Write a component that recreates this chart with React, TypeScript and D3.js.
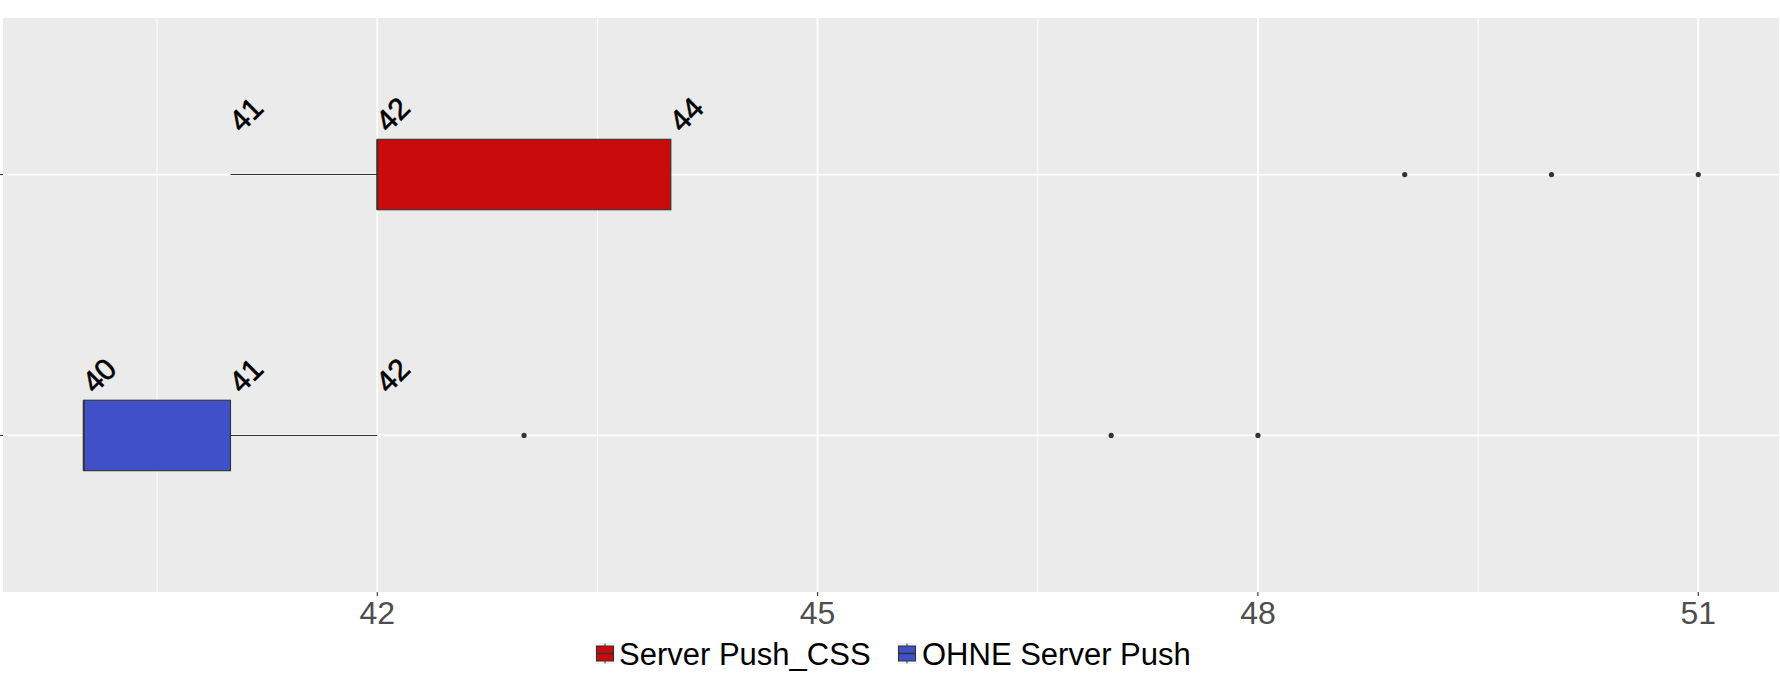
import React from 'react';
import * as d3 from 'd3';

// groups, top to bottom in the picture
const groups = ['Server Push_CSS', 'OHNE Server Push'];
const colors = ['#C90B0B', '#3F50C8'];

// boxplot statistics
const whiskerLow = [41, 40];
const q1 = [42, 40];
const median = [42, 40];
const q3 = [44, 41];
const whiskerHigh = [44, 42];
const outliers = [
  [49, 50, 51],
  [43, 47, 48],
];

// rotated value labels over each box
const labelValues = [
  [41, 42, 44],
  [40, 41, 42],
];

const xTicks = [42, 45, 48, 51];
const xMinor = [40.5, 43.5, 46.5, 49.5];

const W = 1780;
const H = 700;
const panel = { left: 3, right: 1779, top: 18, bottom: 592 };

const App = () => {
  const x = d3.scaleLinear().domain([39.45, 51.55]).range([panel.left, panel.right]);
  // discrete y axis: level 1 at bottom, 2 at top, 0.6 expansion
  const y = d3.scaleLinear().domain([0.4, 2.6]).range([panel.bottom, panel.top]);
  const yPos = (i: number) => y(groups.length - i);
  const half = y(0) - y(0.135);

  const font = '"Liberation Sans", Arial, sans-serif';

  const legendItems = [
    { key: 595, text: 619 },
    { key: 897, text: 922 },
  ];

  return (
    <div style={{ position: 'absolute', left: 0, top: 0 }}>
      <svg width={W} height={H} style={{ display: 'block' }} fontFamily={font}>
        <rect x={0} y={0} width={W} height={H} fill="#FFFFFF" />
        <rect
          x={panel.left}
          y={panel.top}
          width={panel.right - panel.left}
          height={panel.bottom - panel.top}
          fill="#EBEBEB"
        />
        {xMinor.map((v) => (
          <line key={'mn' + v} x1={x(v)} x2={x(v)} y1={panel.top} y2={panel.bottom} stroke="#FFFFFF" strokeWidth={0.9} />
        ))}
        {xTicks.map((v) => (
          <line key={'mj' + v} x1={x(v)} x2={x(v)} y1={panel.top} y2={panel.bottom} stroke="#FFFFFF" strokeWidth={1.8} />
        ))}
        {groups.map((g, i) => (
          <line key={'hg' + g} x1={panel.left} x2={panel.right} y1={yPos(i)} y2={yPos(i)} stroke="#FFFFFF" strokeWidth={1.8} />
        ))}

        {groups.map((g, i) => {
          const cy = yPos(i);
          return (
            <g key={g}>
              <line x1={x(whiskerLow[i])} x2={x(q1[i])} y1={cy} y2={cy} stroke="#333333" strokeWidth={1.1} />
              <line x1={x(q3[i])} x2={x(whiskerHigh[i])} y1={cy} y2={cy} stroke="#333333" strokeWidth={1.1} />
              <rect
                x={x(q1[i])}
                y={cy - half}
                width={x(q3[i]) - x(q1[i])}
                height={half * 2}
                fill={colors[i]}
                stroke="#333333"
                strokeWidth={1.1}
              />
              <line x1={x(median[i])} x2={x(median[i])} y1={cy - half} y2={cy + half} stroke="#333333" strokeWidth={2} />
              {outliers[i].map((v) => (
                <circle key={v} cx={x(v)} cy={cy} r={2.6} fill="#333333" />
              ))}
              {labelValues[i].map((v) => (
                <text
                  key={'l' + v}
                  transform={`translate(${x(v) + 11},${cy - 41}) rotate(-45)`}
                  fontSize={30}
                  fill="#000000"
                  stroke="#000000"
                  strokeWidth={0.6}
                  textAnchor="start"
                >
                  {v}
                </text>
              ))}
            </g>
          );
        })}

        {/* y axis ticks (labels are blank) */}
        {groups.map((g, i) => (
          <line key={'yt' + g} x1={0} x2={panel.left} y1={yPos(i)} y2={yPos(i)} stroke="#333333" strokeWidth={1.1} />
        ))}

        {/* x axis */}
        {xTicks.map((v) => (
          <g key={'xt' + v}>
            <line x1={x(v)} x2={x(v)} y1={panel.bottom} y2={panel.bottom + 4} stroke="#333333" strokeWidth={1.1} />
            <text x={x(v)} y={624} fontSize={32} fill="#4D4D4D" textAnchor="middle">
              {v}
            </text>
          </g>
        ))}

        {/* legend */}
        {groups.map((g, i) => {
          const kx = legendItems[i].key;
          const ky = 643;
          return (
            <g key={'lg' + g}>
              <rect x={kx} y={ky} width={20} height={21} fill="#F2F2F2" />
              <line x1={kx + 10} x2={kx + 10} y1={ky + 0.5} y2={ky + 20.5} stroke="#333333" strokeWidth={1} />
              <rect x={kx + 1.5} y={ky + 3} width={17} height={15} fill={colors[i]} stroke="#333333" strokeWidth={1} />
              <line x1={kx + 1.5} x2={kx + 18.5} y1={ky + 10.5} y2={ky + 10.5} stroke="#333333" strokeWidth={1.5} />
              <text x={legendItems[i].text} y={665} fontSize={31} fill="#000000">
                {g}
              </text>
            </g>
          );
        })}
      </svg>
    </div>
  );
};

export default App;
